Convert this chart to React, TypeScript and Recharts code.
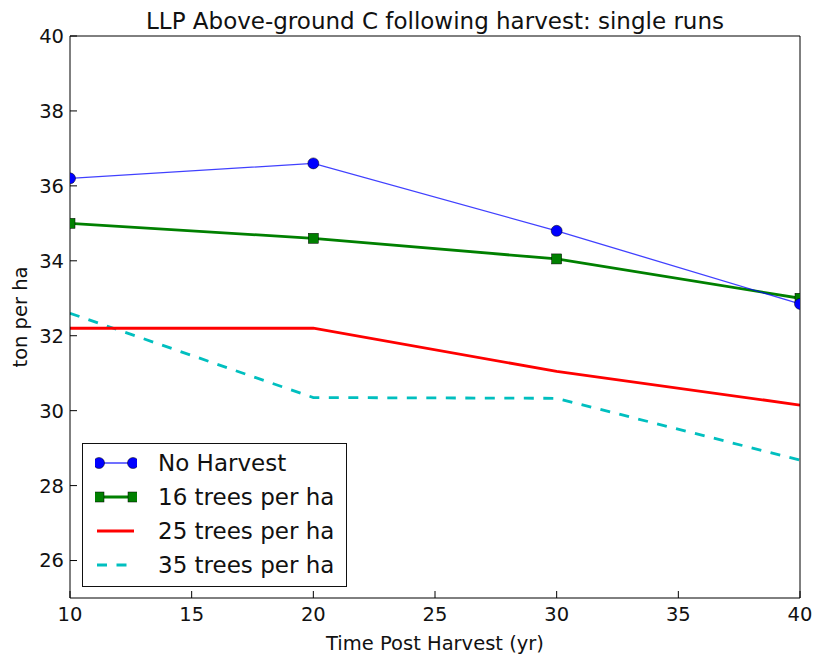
import { LineChart, Line, XAxis, YAxis, Legend } from 'recharts';

const years = [10, 20, 30, 40];
const noHarvest = [36.2, 36.6, 34.8, 32.85];
const trees16 = [35.0, 34.6, 34.05, 33.0];
const trees25 = [32.2, 32.2, 31.05, 30.15];
const trees35 = [32.6, 30.35, 30.33, 28.68];

const xTicks = [10, 15, 20, 25, 30, 35, 40];
const yTicks = [26, 28, 30, 32, 34, 36, 38, 40];

const data = years.map((yr, i) => ({
    yr,
    noHarvest: noHarvest[i],
    t16: trees16[i],
    t25: trees25[i],
    t35: trees35[i],
}));

const SERIES = [
    { key: 'noHarvest', name: 'No Harvest', color: '#0000ff', width: 1.3, opacity: 0.75, dash: undefined, marker: 'circle' },
    { key: 't16', name: '16 trees per ha', color: '#008000', width: 2.8, opacity: 1, dash: undefined, marker: 'square' },
    { key: 't25', name: '25 trees per ha', color: '#ff0000', width: 2.8, opacity: 1, dash: undefined, marker: 'none' },
    { key: 't35', name: '35 trees per ha', color: '#00bfbf', width: 2.8, opacity: 1, dash: '10 9.5', marker: 'none' },
];

const FONT = '"DejaVu Sans", sans-serif';
const TEXT = '#111';

function SquareDot(props: any) {
    const { cx, cy, index } = props;
    if (cx == null || cy == null) return <g key={index} />;
    return (
        <rect
            key={index}
            x={cx - 5}
            y={cy - 5}
            width={10}
            height={10}
            fill="#008000"
            stroke="#000"
            strokeWidth={0.5}
        />
    );
}

function Marker({ kind, x }: { kind: string; x: number }) {
    if (kind === 'circle') {
        return <circle cx={x} cy={10} r={5.5} fill="#0000ff" stroke="#000" strokeWidth={0.5} />;
    }
    if (kind === 'square') {
        return <rect x={x - 5} y={5} width={10} height={10} fill="#008000" stroke="#000" strokeWidth={0.5} />;
    }
    return null;
}

function LegendBox() {
    return (
        <div
            style={{
                width: 265,
                height: 144,
                boxSizing: 'border-box',
                border: '1px solid #111',
                background: '#fff',
                paddingTop: 2,
                fontFamily: FONT,
            }}
        >
            {SERIES.map((s) => (
                <div key={s.key} style={{ display: 'flex', alignItems: 'center', height: 34 }}>
                    <svg width={42} height={20} style={{ marginLeft: 12, marginRight: 21 }}>
                        <line
                            x1={2}
                            y1={10}
                            x2={39}
                            y2={10}
                            stroke={s.color}
                            strokeWidth={s.width + 0.3}
                            strokeOpacity={s.opacity}
                            strokeDasharray={s.dash}
                        />
                        <Marker kind={s.marker} x={4} />
                        <Marker kind={s.marker} x={38} />
                    </svg>
                    <span style={{ fontSize: 23, color: TEXT, lineHeight: '34px', whiteSpace: 'nowrap' }}>
                        {s.name}
                    </span>
                </div>
            ))}
        </div>
    );
}

export default function App() {
    return (
        <div style={{ position: 'absolute', left: 0, top: 0, width: 814, height: 656, background: '#fff', fontFamily: FONT }}>
            <div
                style={{
                    position: 'absolute',
                    left: 70,
                    top: 9,
                    width: 730,
                    textAlign: 'center',
                    fontSize: 23,
                    lineHeight: '24px',
                    color: TEXT,
                    zIndex: 2,
                    whiteSpace: 'nowrap',
                }}
            >
                LLP Above-ground C following harvest: single runs
            </div>
            <LineChart width={814} height={656} data={data} margin={{ top: 35, right: 13, bottom: 0, left: 0 }}>
                <XAxis
                    dataKey="yr"
                    type="number"
                    domain={[10, 40]}
                    ticks={xTicks}
                    allowDataOverflow
                    height={58}
                    tickSize={-7}
                    tickMargin={16}
                    axisLine={{ stroke: '#000' }}
                    tickLine={{ stroke: '#000' }}
                    tick={{ fill: TEXT, fontSize: 19.5 }}
                    label={{
                        value: 'Time Post Harvest (yr)',
                        position: 'insideBottom',
                        offset: 6,
                        fill: TEXT,
                        fontSize: 19.5,
                    }}
                />
                <XAxis
                    xAxisId="top"
                    orientation="top"
                    dataKey="yr"
                    type="number"
                    domain={[10, 40]}
                    ticks={xTicks}
                    allowDataOverflow
                    height={1}
                    tickSize={-7}
                    tick={false}
                    axisLine={{ stroke: '#000' }}
                    tickLine={{ stroke: '#000' }}
                />
                <YAxis
                    type="number"
                    domain={[25, 40]}
                    ticks={yTicks}
                    allowDataOverflow
                    width={70}
                    tickSize={-7}
                    tickMargin={13}
                    axisLine={{ stroke: '#000' }}
                    tickLine={{ stroke: '#000' }}
                    tick={{ fill: TEXT, fontSize: 19.5 }}
                    label={{
                        value: 'ton per ha',
                        angle: -90,
                        position: 'insideLeft',
                        offset: 20,
                        fill: TEXT,
                        fontSize: 19.5,
                        textAnchor: 'middle',
                        style: { textAnchor: 'middle' },
                    }}
                />
                <YAxis
                    yAxisId="right"
                    orientation="right"
                    type="number"
                    domain={[25, 40]}
                    ticks={yTicks}
                    allowDataOverflow
                    width={1}
                    tickSize={-7}
                    tick={false}
                    axisLine={{ stroke: '#000' }}
                    tickLine={{ stroke: '#000' }}
                />
                <Legend
                    layout="vertical"
                    align="center"
                    verticalAlign="middle"
                    wrapperStyle={{ left: 82, top: 443, width: 265, height: 144 }}
                    content={() => <LegendBox />}
                />
                <Line
                    dataKey="t35"
                    name="35 trees per ha"
                    stroke="#00bfbf"
                    strokeWidth={2.8}
                    strokeDasharray="10 9.5"
                    dot={false}
                    isAnimationActive={false}
                />
                <Line
                    dataKey="t25"
                    name="25 trees per ha"
                    stroke="#ff0000"
                    strokeWidth={2.8}
                    dot={false}
                    isAnimationActive={false}
                />
                <Line
                    dataKey="t16"
                    name="16 trees per ha"
                    stroke="#008000"
                    strokeWidth={2.8}
                    dot={<SquareDot />}
                    isAnimationActive={false}
                />
                <Line
                    dataKey="noHarvest"
                    name="No Harvest"
                    stroke="#0000ff"
                    strokeWidth={1.3}
                    strokeOpacity={0.75}
                    dot={{ r: 5.5, fill: '#0000ff', stroke: '#000', strokeWidth: 0.5, strokeOpacity: 1 }}
                    isAnimationActive={false}
                />
            </LineChart>
        </div>
    );
}
